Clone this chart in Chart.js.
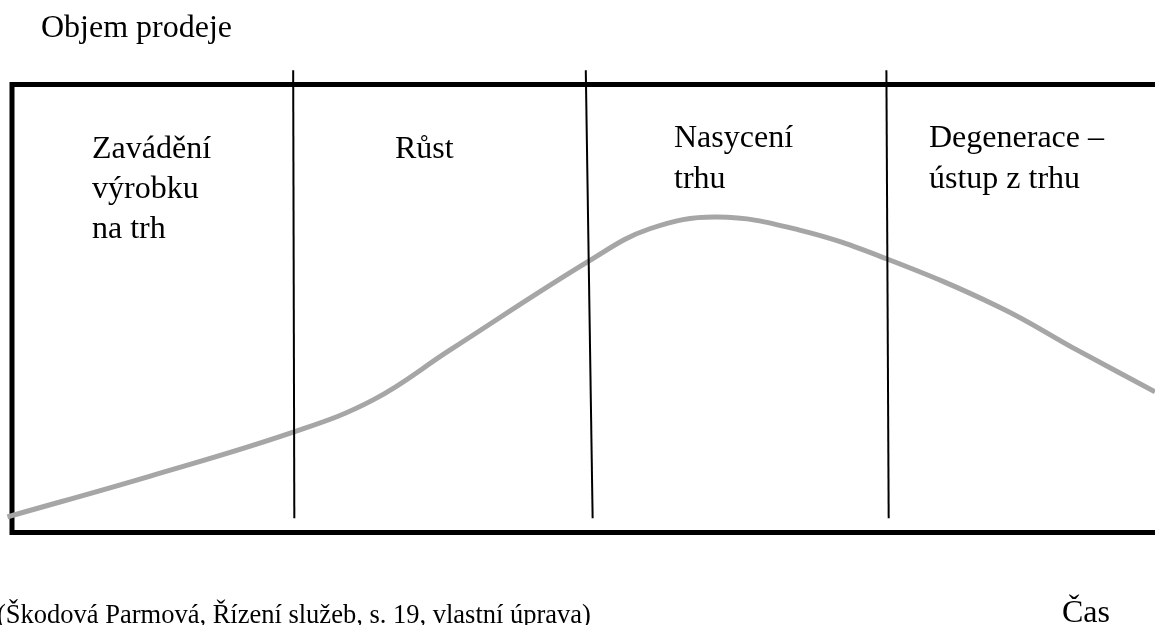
<!DOCTYPE html>
<html>
<head>
<meta charset="utf-8">
<script src="https://cdn.jsdelivr.net/npm/chart.js@4"></script>
<style>
html,body{margin:0;padding:0;background:#ffffff;overflow:hidden;}
#wrap{position:relative;width:1155px;height:625px;}
</style>
</head>
<body>
<div id="wrap"><canvas id="c" width="1155" height="625"></canvas></div>
<script>
// ---- data (time 0..100 across the frame, sales volume 0..100 bottom..top) ----
const timeValues  = [-0.4, 12.1, 24.6, 31.6, 38.3, 50.6, 55.8, 61.7, 68.9, 76.5, 86.4, 93.2, 100];
const salesValues = [3.5, 12.6, 22.4, 29.6, 40.7, 60.8, 67.8, 70.4, 67.5, 61.1, 50.3, 40.7, 31.4];
const phaseNames = [["Zavádění", "výrobku", "na trh"], ["Růst"], ["Nasycení", "trhu"], ["Degenerace –", "ústup z trhu"]];
const boundaryTopX    = [24.6, 50.2, 76.5];
const boundaryBottomX = [24.7, 50.8, 76.7];
const boundarySpan    = [103.2, 3.2];
const yAxisLabel = "Objem prodeje";
const xAxisLabel = "Čas";
const sourceNote = "(Škodová Parmová, Řízení služeb, s. 19, vlastní úprava)";

// ---- layout / styles ----
const FONT = '"Liberation Serif", "Times New Roman", serif';
const phaseLabelLayout = [
  {x: 92,  y: 158, lh: 40},
  {x: 395, y: 158, lh: 40},
  {x: 674, y: 147, lh: 41},
  {x: 929, y: 147, lh: 41}
];

const curveData = timeValues.map((t, i) => ({x: t, y: salesValues[i]}));
const boundaryDatasets = boundaryTopX.map((tx, i) => ({
  data: [{x: tx, y: boundarySpan[0]}, {x: boundaryBottomX[i], y: boundarySpan[1]}],
  borderColor: '#000000',
  borderWidth: 2,
  pointRadius: 0,
  tension: 0,
  clip: false,
  order: 0
}));

const framePlugin = {
  id: 'frame',
  beforeDatasetsDraw(chart) {
    const {ctx, chartArea: a} = chart;
    ctx.save();
    ctx.strokeStyle = '#000000';
    ctx.lineWidth = 5;
    ctx.lineJoin = 'miter';
    ctx.beginPath();
    ctx.moveTo(chart.width + 5, a.top);
    ctx.lineTo(a.left, a.top);
    ctx.lineTo(a.left, a.bottom);
    ctx.lineTo(chart.width + 5, a.bottom);
    ctx.stroke();
    ctx.restore();
  }
};

const textPlugin = {
  id: 'texts',
  afterDraw(chart) {
    const ctx = chart.ctx;
    ctx.save();
    ctx.fillStyle = '#000000';
    ctx.textBaseline = 'alphabetic';
    ctx.textAlign = 'left';
    ctx.font = '32px ' + FONT;
    phaseNames.forEach((lines, i) => {
      const L = phaseLabelLayout[i];
      lines.forEach((s, j) => ctx.fillText(s, L.x, L.y + j * L.lh));
    });
    ctx.fillText(yAxisLabel, 41, 37);
    ctx.fillText(xAxisLabel, 1062, 622);
    ctx.font = '26.5px ' + FONT;
    ctx.fillText(sourceNote, -3, 623);
    ctx.restore();
  }
};

new Chart(document.getElementById('c'), {
  type: 'line',
  data: {
    datasets: [
      {
        data: curveData,
        borderColor: '#a6a6a6',
        borderWidth: 5,
        pointRadius: 0,
        tension: 0.4,
        clip: false,
        order: 1
      },
      ...boundaryDatasets
    ]
  },
  options: {
    responsive: false,
    animation: false,
    events: [],
    layout: {padding: {left: 12, top: 84.5, right: 0, bottom: 92.5}},
    scales: {
      x: {type: 'linear', min: 0, max: 100, display: false},
      y: {type: 'linear', min: 0, max: 100, display: false}
    },
    plugins: {
      legend: {display: false},
      tooltip: {enabled: false},
      title: {display: false}
    }
  },
  plugins: [framePlugin, textPlugin]
});
</script>
</body>
</html>
